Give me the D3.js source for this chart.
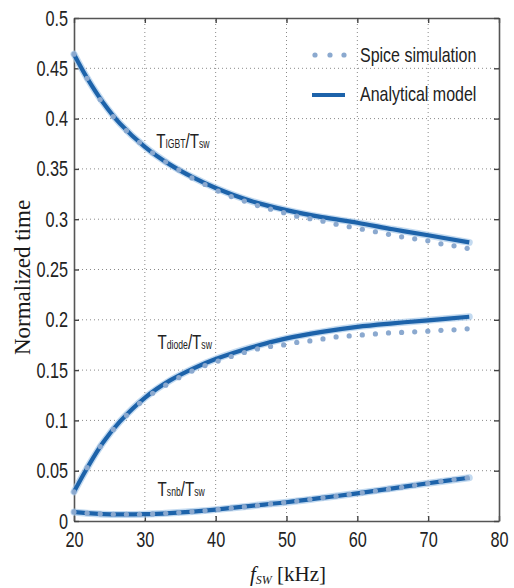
<!DOCTYPE html>
<html>
<head>
<meta charset="utf-8">
<script src="https://cdn.jsdelivr.net/npm/d3@7"></script>
<style>
  html, body { margin: 0; padding: 0; background: #fff; }
  svg { display: block; }
</style>
</head>
<body>
<svg id="chart" width="514" height="588"></svg>
<script>
// Switching frequency (kHz) of the SPICE runs
const simFreq = [20, 21.85, 23.7, 25.55, 27.4, 29.25, 31.1, 32.95, 34.8, 36.65, 38.5,
  40.35, 42.2, 44.05, 45.9, 47.75, 49.6, 51.45, 53.3, 55.15, 57, 58.85, 60.7,
  62.55, 64.4, 66.25, 68.1, 69.95, 71.8, 73.65, 75.5];
const simIGBT = [0.464, 0.440, 0.419, 0.402, 0.388, 0.3765, 0.366, 0.357, 0.349, 0.341, 0.3345,
  0.328, 0.3225, 0.318, 0.3135, 0.310, 0.3065, 0.303, 0.3005, 0.298, 0.295, 0.2925, 0.290,
  0.2875, 0.285, 0.2825, 0.2805, 0.2785, 0.2755, 0.2735, 0.271];
const simDiode = [0.029, 0.053, 0.074, 0.091, 0.105, 0.117, 0.127, 0.135, 0.1425, 0.149, 0.1545,
  0.159, 0.1635, 0.1675, 0.171, 0.1735, 0.175, 0.1775, 0.179, 0.181, 0.183, 0.184, 0.185,
  0.186, 0.187, 0.1875, 0.188, 0.1887, 0.1895, 0.190, 0.191];
const simSnb = [0.009, 0.0078, 0.007, 0.0066, 0.0065, 0.0067, 0.007, 0.0076, 0.0084, 0.0093, 0.0103,
  0.0115, 0.0127, 0.014, 0.0155, 0.017, 0.0183, 0.0198, 0.0215, 0.023, 0.0247, 0.0264, 0.028,
  0.0298, 0.0316, 0.0335, 0.0355, 0.0375, 0.0394, 0.0412, 0.043];

// Analytical model, sampled frequencies (kHz)
const modelFreq = [20, 21.8, 24.1, 26.5, 30, 33.5, 36.8, 40, 45, 50, 55, 60, 65, 70, 75.8];
const modelIGBT = [0.464, 0.441, 0.416, 0.395, 0.372, 0.3545, 0.3415, 0.331, 0.318, 0.309, 0.302, 0.2965, 0.290, 0.284, 0.277];
const modelDiode = [0.029, 0.052, 0.078, 0.099, 0.1225, 0.1395, 0.1515, 0.161, 0.1725, 0.1815, 0.188, 0.193, 0.1965, 0.1995, 0.203];
const modelSnb = [0.009, 0.0078, 0.0068, 0.0065, 0.0068, 0.0079, 0.0094, 0.0113, 0.015, 0.0186, 0.023, 0.0275, 0.0325, 0.0375, 0.043];

const xTicks = [20, 30, 40, 50, 60, 70, 80];
const yTicks = [0, 0.05, 0.1, 0.15, 0.2, 0.25, 0.3, 0.35, 0.4, 0.45, 0.5];
const yTickLabels = ["0", "0.05", "0.1", "0.15", "0.2", "0.25", "0.3", "0.35", "0.4", "0.45", "0.5"];

const legendLabels = ["Spice simulation", "Analytical model"];

const lineColor = "#1d63aa";
const haloColor = "#a9cbea";
const dotColor = "#8ba9cf";
const sansFont = "'Liberation Sans', Arial, sans-serif";
const serifFont = "'Liberation Serif', 'Times New Roman', serif";
const squeeze = 0.74; // horizontal compression for the condensed sans labels

const svg = d3.select("#chart");
const margin = { top: 18, right: 15, bottom: 67, left: 74 };
const W = 514, H = 588;
const x = d3.scaleLinear().domain([20, 80]).range([margin.left, W - margin.right]);
const y = d3.scaleLinear().domain([0, 0.5]).range([H - margin.bottom, margin.top]);

// Condensed text placed at (px, py)
function narrowText(parent, px, py, size, sx) {
  return parent.append("text")
    .attr("transform", `translate(${px},${py}) scale(${sx},1)`)
    .style("font-family", sansFont).style("font-size", size + "px").attr("fill", "#222");
}

// Dotted grid
const grid = svg.append("g").attr("stroke", "#8a8a8a").attr("stroke-width", 1)
  .attr("stroke-dasharray", "1,3");
grid.selectAll("line.gx").data(xTicks.slice(1, -1)).join("line")
  .attr("x1", d => x(d)).attr("x2", d => x(d))
  .attr("y1", y(0)).attr("y2", y(0.5));
grid.selectAll("line.gy").data(yTicks.slice(1, -1)).join("line")
  .attr("x1", x(20)).attr("x2", x(80))
  .attr("y1", d => y(d)).attr("y2", d => y(d));

// Axes with inward ticks
const gx = svg.append("g").attr("transform", `translate(0,${y(0)})`)
  .call(d3.axisBottom(x).tickValues(xTicks).tickSizeInner(-5).tickSizeOuter(0).tickPadding(10));
const gy = svg.append("g").attr("transform", `translate(${x(20)},0)`)
  .call(d3.axisLeft(y).tickValues(yTicks).tickFormat((d, i) => yTickLabels[i])
    .tickSizeInner(-5).tickSizeOuter(0).tickPadding(8));
const gt = svg.append("g").attr("transform", `translate(0,${y(0.5)})`)
  .call(d3.axisTop(x).tickValues(xTicks).tickSizeInner(-5).tickSizeOuter(0).tickFormat(""));
const gr = svg.append("g").attr("transform", `translate(${x(80)},0)`)
  .call(d3.axisRight(y).tickValues(yTicks).tickSizeInner(-5).tickSizeOuter(0).tickFormat(""));
[gx, gy, gt, gr].forEach(g => {
  g.select(".domain").attr("stroke", "#555").attr("stroke-width", 1.6);
  g.selectAll(".tick line").attr("stroke", "#444").attr("stroke-width", 1.4);
  g.selectAll(".tick text")
    .style("font-family", sansFont).style("font-size", "22px").attr("fill", "#222")
    .attr("transform", `scale(${squeeze},1)`);
});
gx.selectAll(".tick text").attr("dy", "0.75em");

// Curves
const line = d3.line().x(d => x(d[0])).y(d => y(d[1])).curve(d3.curveCatmullRom.alpha(0.5));
const models = [modelIGBT, modelDiode, modelSnb].map(v => modelFreq.map((f, i) => [f, v[i]]));
const sims = [simIGBT, simDiode, simSnb].map(v => simFreq.map((f, i) => [f, v[i]]));

svg.append("g").selectAll("path").data(models).join("path")
  .attr("d", line).attr("fill", "none").attr("stroke", haloColor)
  .attr("stroke-width", 7).attr("stroke-linecap", "round").attr("opacity", 0.7);
svg.append("g").selectAll("path").data(models).join("path")
  .attr("d", line).attr("fill", "none").attr("stroke", lineColor)
  .attr("stroke-width", 4.2);

svg.append("g").selectAll("g").data(sims).join("g")
  .selectAll("circle").data(d => d).join("circle")
  .attr("cx", d => x(d[0])).attr("cy", d => y(d[1])).attr("r", 2.6)
  .attr("fill", dotColor);

// Curve labels: main letter plus subscripts
const curveLabels = [
  { sub: "IGBT", fx: 31.6, fy: 0.3705 },
  { sub: "diode", fx: 31.8, fy: 0.1705 },
  { sub: "snb", fx: 31.8, fy: 0.0247 }
];
curveLabels.forEach(l => {
  const t = narrowText(svg, x(l.fx), y(l.fy), 21, 0.72);
  t.append("tspan").text("T");
  t.append("tspan").style("font-size", "12px").text(l.sub);
  t.append("tspan").text("/T");
  t.append("tspan").style("font-size", "12px").text("sw");
});

// Legend
const lg = svg.append("g");
[315, 330, 344].forEach(cx => lg.append("circle").attr("cx", cx).attr("cy", 55).attr("r", 2.6).attr("fill", dotColor));
lg.append("line").attr("x1", 312).attr("x2", 345).attr("y1", 95).attr("y2", 95)
  .attr("stroke", lineColor).attr("stroke-width", 4);
legendLabels.forEach((d, i) => narrowText(lg, 360, 62 + i * 39, 20.5, 0.78).text(d));

// Axis titles
svg.append("text")
  .attr("transform", `translate(30,${(y(0) + y(0.5)) / 2 + 8}) rotate(-90)`)
  .attr("text-anchor", "middle")
  .style("font-family", serifFont).style("font-size", "23px")
  .attr("fill", "#1a1a1a").text("Normalized time");

const xt = svg.append("text").attr("x", 288).attr("y", 581).attr("text-anchor", "middle")
  .style("font-family", serifFont).style("font-size", "21px")
  .attr("fill", "#1a1a1a");
xt.append("tspan").style("font-style", "italic").text("f");
xt.append("tspan").style("font-style", "italic").style("font-size", "12px").attr("dy", 3).text("SW");
xt.append("tspan").attr("dy", -3).text(" [kHz]");
</script>
</body>
</html>
